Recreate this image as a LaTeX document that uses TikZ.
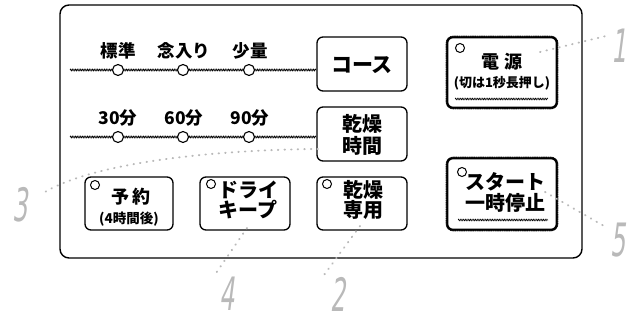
\documentclass[tikz,border=0pt]{standalone}
\usepackage{fontspec}
\setmainfont{Noto Sans CJK JP}
\newfontfamily\digf{DejaVu Sans}[FakeSlant=0.25]
\usetikzlibrary{decorations.pathmorphing}
\tikzset{
  btn/.style={draw, line width=1.3pt, rounded corners=6pt, inner sep=0pt},
  pwr/.style={btn, line width=2.6pt},
  lamp/.style={draw, circle, line width=1pt, minimum size=9pt, inner sep=0pt, fill=white},
  knob/.style={draw, circle, line width=1.1pt, minimum size=11pt, inner sep=0pt, fill=white},
  lbl/.style={font=\bfseries\fontsize{17.5}{17.5}\selectfont, inner sep=0pt},
  big/.style={font=\bfseries\fontsize{20}{24}\selectfont, inner sep=0pt, align=center},
  small/.style={font=\bfseries\fontsize{13}{13}\selectfont, inner sep=0pt},
  wave/.style={line width=0.6pt, decorate, decoration={snake, amplitude=0.9pt, segment length=1.7pt}},
  callout/.style={gray!55, line width=1.9pt, dash pattern=on 0.6pt off 6pt, line cap=round},
  digit/.style={font=\digf\fontsize{46}{46}\selectfont, text=gray!55, inner sep=0pt, xscale=0.52, transform shape},
}
\begin{document}
\begin{tikzpicture}[x=1pt,y=-1pt]
\useasboundingbox (0,0) rectangle (633,321);
% panel
\draw[line width=1.4pt, rounded corners=9pt] (60,5) rectangle (582,258);
% buttons
\node[btn, minimum width=90pt, minimum height=54pt] (course) at (362,64) {};
\node[btn, minimum width=90pt, minimum height=54pt] (dtime) at (362,134) {};
\node[pwr, minimum width=110pt, minimum height=71pt] (power) at (502,72.5) {};
\node[pwr, minimum width=110pt, minimum height=72pt] (start) at (502,194) {};
\node[btn, minimum width=88pt, minimum height=53pt] (yoyaku) at (129,203.5) {};
\node[btn, minimum width=90pt, minimum height=53pt] (dry) at (245,203.5) {};
\node[btn, minimum width=90pt, minimum height=53pt] (dryonly) at (362,203.5) {};
\draw[white, line width=0.8pt, dash pattern=on 0.9pt off 0.9pt, rounded corners=6pt] (power.south west) rectangle (power.north east);
\draw[white, line width=0.8pt, dash pattern=on 0.9pt off 0.9pt, rounded corners=6pt] (start.south west) rectangle (start.north east);
% slider rows
\coordinate (r1s) at (70,70);
\coordinate (r2s) at (70,137);
\draw[wave] (r1s) -- (course.west |- r1s);
\draw[wave] (r2s) -- (dtime.west |- r2s);
\node[knob] (k1) at (118,70) {};
\node[knob] (k2) at (183,70) {};
\node[knob] (k3) at (249,70) {};
\node[knob] (k4) at (118,137) {};
\node[knob] (k5) at (183,137) {};
\node[knob] (k6) at (249,137) {};
\node[lbl] (t1) at (118,51) {標準};
\node[lbl] (t2) at (184,51) {念入り};
\node[lbl] (t3) at (250,51) {少量};
\node[lbl] (t4) at (118,118) {30分};
\node[lbl] (t5) at (184,118) {60分};
\node[lbl] (t6) at (250,118) {90分};
% button texts
\node[big, font=\bfseries\fontsize{21}{24}\selectfont] (tc) at (362,65) {コース};
\node[big] (td) at (362,135) {乾燥\\[-2pt]時間};
\node[lamp] (l1) at (460,48) {};
\node[lbl, font=\bfseries\fontsize{18}{18}\selectfont] (tp) at (502,62) {電\,\,源};
\node[small] (tp2) at (502,83) {(切は1秒長押し)};
\draw[wave, line width=0.5pt] (455,99) -- (548,99);
\node[lamp] (l2) at (462,172) {};
\node[big] (ts) at (505,192) {スタート\\[-3pt]一時停止};
\draw[wave, line width=0.5pt] (458,220) -- (548,220);
\node[lamp] (l3) at (95,185) {};
\node[lbl, font=\bfseries\fontsize{18}{18}\selectfont] (ty) at (131,197) {予\,約};
\node[small, font=\bfseries\fontsize{13.5}{13}\selectfont] (ty2) at (129,219) {(4時間後)};
\node[lamp] (l4) at (211,184) {};
\node[big] (tk) at (248,200) {ドライ\\[-4pt]キープ};
\node[lamp] (l5) at (327,184) {};
\node[big] (te) at (363,200) {乾燥\\[-4pt]専用};
% callouts
\node[digit] (n1) at (619,46) {1};
\node[digit] (n2) at (338,294) {2};
\node[digit] (n3) at (20,205) {3};
\node[digit] (n4) at (227,294) {4};
\node[digit] (n5) at (618,240) {5};
\coordinate (c1) at (540,52);
\coordinate (c3) at (318,149);
\coordinate (c4) at (247,228);
\coordinate (c2) at (360,226);
\coordinate (c5) at (545,192);
\draw[callout] (c1) -- (606,36);
\draw[callout] (c3) .. controls (200,150) and (90,165) .. (45,192);
\draw[callout] (c4) -- (214,276);
\draw[callout] (c2) -- (324,275);
\draw[callout] (c5) -- (604,226);
\end{tikzpicture}
\end{document}
